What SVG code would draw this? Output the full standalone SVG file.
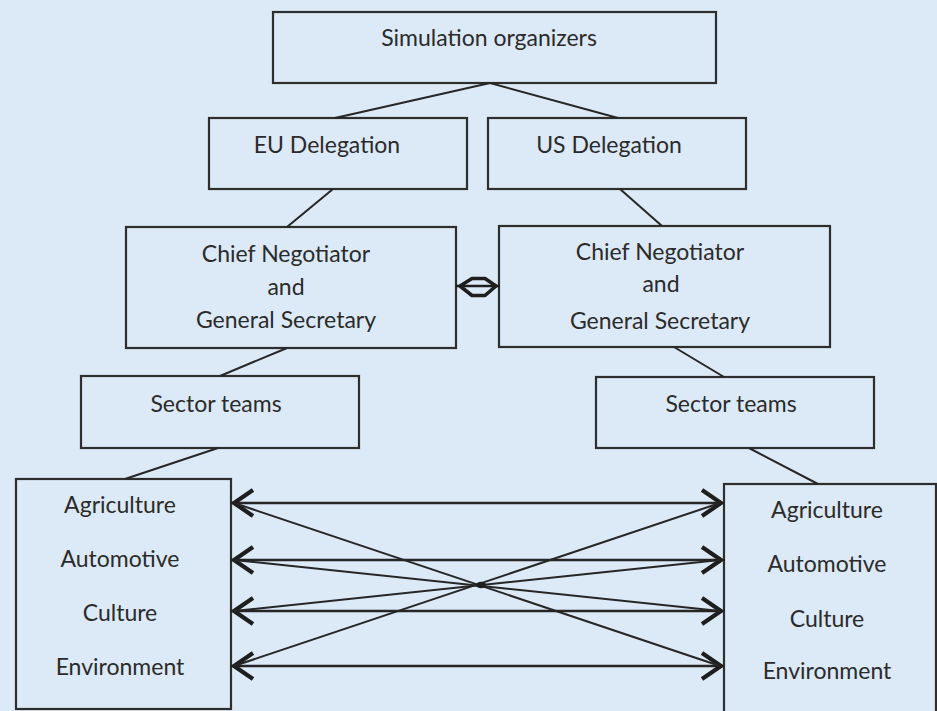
<svg xmlns="http://www.w3.org/2000/svg" width="937" height="711" viewBox="0 0 937 711">
<style>
.bx{fill:#dce9f6;stroke:#2e2e2e;stroke-width:2.2}
.t{font-family:Lato,"Open Sans","Liberation Sans",sans-serif;font-size:23px;fill:#2b2b2b;text-anchor:middle}
.c{stroke:#262626;stroke-width:2;fill:none}
.a{stroke:#262626;stroke-width:2.6;fill:none}
</style>
<defs>
<marker id="ah" viewBox="-24 -16 26 32" refX="0" refY="0" markerWidth="26" markerHeight="32" markerUnits="userSpaceOnUse" orient="auto-start-reverse">
<path d="M-20,-13 L-1,0 L-20,13" fill="none" stroke="#1e1e1e" stroke-width="4.2" stroke-linejoin="miter"/>
</marker>
</defs>
<rect width="937" height="711" fill="#dce9f6"/>
<g id="organizers"><rect class="bx" x="273" y="12" width="443" height="71"/><text class="t" x="489" y="46">Simulation organizers</text></g>
<g id="eu-delegation"><rect class="bx" x="209" y="118" width="258" height="71"/><text class="t" x="327" y="153">EU Delegation</text></g>
<g id="us-delegation"><rect class="bx" x="488" y="118" width="258" height="71"/><text class="t" x="609" y="153">US Delegation</text></g>
<g id="eu-chief"><rect class="bx" x="126" y="227" width="330" height="121"/><text class="t" x="286" y="262">Chief Negotiator</text><text class="t" x="286" y="295">and</text><text class="t" x="286" y="328">General Secretary</text></g>
<g id="us-chief"><rect class="bx" x="499" y="226" width="331" height="121"/><text class="t" x="660" y="260">Chief Negotiator</text><text class="t" x="661" y="292">and</text><text class="t" x="660" y="329">General Secretary</text></g>
<g id="eu-sector"><rect class="bx" x="81" y="376" width="278" height="72"/><text class="t" x="216" y="412">Sector teams</text></g>
<g id="us-sector"><rect class="bx" x="596" y="377" width="278" height="71"/><text class="t" x="731" y="412">Sector teams</text></g>
<g id="eu-list"><rect class="bx" x="16" y="479" width="215" height="230"/><text class="t" x="120" y="513">Agriculture</text><text class="t" x="120" y="567">Automotive</text><text class="t" x="120" y="621">Culture</text><text class="t" x="120" y="675">Environment</text></g>
<g id="us-list"><rect class="bx" x="724" y="484" width="212" height="240"/><text class="t" x="827" y="518">Agriculture</text><text class="t" x="827" y="572">Automotive</text><text class="t" x="827" y="627">Culture</text><text class="t" x="827" y="679">Environment</text></g>
<g id="connectors">
<line class="c" x1="490" y1="83" x2="335" y2="118"/>
<line class="c" x1="490" y1="83" x2="618" y2="118"/>
<line class="c" x1="333" y1="189" x2="287" y2="227"/>
<line class="c" x1="620" y1="189" x2="662" y2="226"/>
<line class="c" x1="287" y1="348" x2="220" y2="376"/>
<line class="c" x1="674" y1="347" x2="724" y2="377"/>
<line class="c" x1="218" y1="448" x2="125" y2="479"/>
<line class="c" x1="749" y1="448" x2="818" y2="484"/>
<g id="diamond">
<line x1="456" y1="286" x2="500" y2="286" stroke="#1e1e1e" stroke-width="2.4"/>
<polygon points="460,286 472,278.5 485,278.5 496,286 485,295.5 472,295.5" fill="none" stroke="#1e1e1e" stroke-width="3.6" stroke-linejoin="round"/>
</g>
<line class="a" x1="233" y1="503" x2="722" y2="503" marker-start="url(#ah)" marker-end="url(#ah)"/>
<line class="a" x1="233" y1="560" x2="722" y2="560" marker-start="url(#ah)" marker-end="url(#ah)"/>
<line class="a" x1="233" y1="611" x2="722" y2="611" marker-start="url(#ah)" marker-end="url(#ah)"/>
<line class="a" x1="233" y1="666" x2="722" y2="666" marker-start="url(#ah)" marker-end="url(#ah)"/>
<line class="c" x1="234" y1="503" x2="720" y2="666"/>
<line class="c" x1="234" y1="666" x2="720" y2="503"/>
<line class="c" x1="234" y1="560" x2="720" y2="611"/>
<line class="c" x1="234" y1="611" x2="720" y2="560"/>
<ellipse cx="481" cy="585" rx="5" ry="3.2" fill="#1e1e1e"/>
</g>
</svg>
